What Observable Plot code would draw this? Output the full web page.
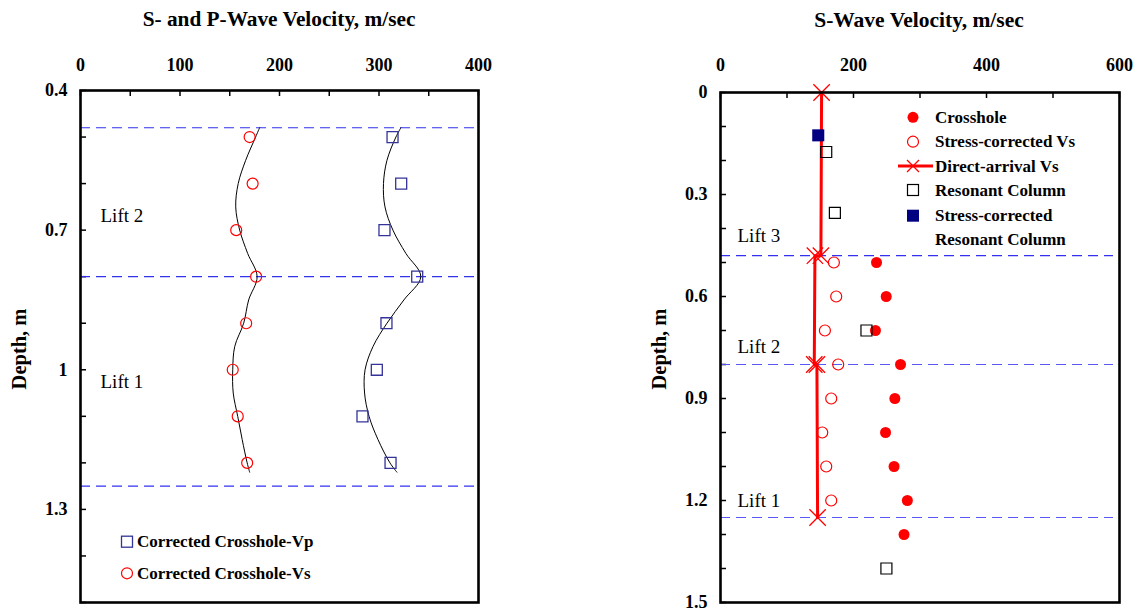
<!DOCTYPE html>
<html><head><meta charset="utf-8">
<script src="https://cdn.jsdelivr.net/npm/d3@7"></script>
<script src="https://cdn.jsdelivr.net/npm/@observablehq/plot@0.6"></script>
<style>
body{margin:0;background:#fff;}
#wrap{position:relative;width:1139px;height:612px;background:#fff;}
#wrap .panel{position:absolute;top:0;}
#overlay{position:absolute;left:0;top:0;}
</style></head><body><div id="wrap"></div>
<script>
// ---------- Left panel data ----------
const leftXMinor = [0,50,100,150,200,250,300,350,400];
const leftXLabels = [0,100,200,300,400];
const leftYMinor = [0.4,0.5,0.6,0.7,0.8,0.9,1.0,1.1,1.2,1.3,1.4,1.5];
const leftYLabels = [0.4,0.7,1.0,1.3];
const leftLayerDepths = [0.48,0.8,1.25];
const leftLiftLabels = ["Lift 2","Lift 1"];
const leftLiftDepths = [0.67,1.025];

const csDepth = [0.5,0.6,0.7,0.8,0.9,1.0,1.1,1.2];
const vsCorrected = [170,173,156.5,176.5,166.5,153,158,167.5];
const vpCorrected = [313.6,322.3,305.5,338.4,307.5,297.8,283.4,311.6];

const vsCurveDepth = [0.48,0.5,0.55,0.6,0.65,0.7,0.75,0.8,0.85,0.9,0.95,1.0,1.05,1.1,1.15,1.2,1.22];
const vsCurveVel   = [180,176,166,158.5,156,160,168,177.5,169,164,155,153,153.5,158,162.5,167.5,170];
const vpCurveDepth = [0.48,0.5,0.55,0.6,0.65,0.7,0.75,0.8,0.85,0.9,0.95,1.0,1.05,1.1,1.15,1.2,1.22];
const vpCurveVel   = [322,317,308,304.5,306,314,327,342,325,308,294,286,285.5,290,299,311,318];

// ---------- Right panel data ----------
const rightXMinor = [0,100,200,300,400,500,600];
const rightXLabels = [0,200,400,600];
const rightYMinor = [0,0.1,0.2,0.3,0.4,0.5,0.6,0.7,0.8,0.9,1.0,1.1,1.2,1.3,1.4,1.5];
const rightYLabels = [0,0.3,0.6,0.9,1.2,1.5];
const rightLayerDepths = [0.48,0.8,1.25];
const rightLiftLabels = ["Lift 3","Lift 2","Lift 1"];
const rightLiftDepths = [0.423,0.748,1.2];

const crossDepth = [0.5,0.6,0.7,0.8,0.9,1.0,1.1,1.2,1.3];
const crossVs = [234.6,249.2,233,270.7,262.2,248.2,261,281,276];
const scDepth = [0.5,0.6,0.7,0.8,0.9,1.0,1.1,1.2];
const scVs = [170.5,174,157,177,166.5,153,159,166.5];
const daDepth = [0,0.48,0.48,0.8,0.8,1.25];
const daVs = [152,151,142,141,145,146];
const rcDepth = [0.175,0.354,0.7,1.4];
const rcVs = [159,172,219.5,249.5];
const scrcDepth = [0.126];
const scrcVs = [147];

// ---------- styles ----------
const serif = '"Liberation Serif", "Times New Roman", serif';
const dashBlue = "#3232ee";
const dashBlueLight = "#5858f8";
const navy = "#333399";
const red = "#ff0000";

const pts = (ys, xs) => ys.map((d, i) => ({y: d, x: xs[i]}));

function axes(xMinor, xLabels, yMinor, yLabels, xPad, yPad, plotW, plotH) {
  return [
    Plot.tickX(xMinor, {x: d => d, stroke: "black", strokeWidth: 1.5, insetBottom: plotH - 6}),
    Plot.tickY(yMinor, {y: d => d, stroke: "black", strokeWidth: 1.5, insetRight: plotW - 6}),
    Plot.axisX(xLabels, {anchor: "top", tickSize: 0, tickPadding: xPad, label: null, tickFormat: d => String(d)}),
    Plot.axisY(yLabels, {anchor: "left", tickSize: 0, tickPadding: yPad, label: null, tickFormat: d => String(d)})
  ];
}

const baseStyle = {fontFamily: serif, fontSize: "18px", fontWeight: "bold", color: "black", background: "transparent", overflow: "visible"};

const leftPlot = Plot.plot({
  width: 560, height: 612,
  marginLeft: 80, marginRight: 82, marginTop: 90, marginBottom: 10,
  style: baseStyle,
  x: {domain: [0, 400]},
  y: {domain: [0.4, 1.5], reverse: true},
  marks: [
    ...axes(leftXMinor, leftXLabels, leftYMinor, leftYLabels, 20, 13, 398, 512),
    Plot.ruleY(leftLayerDepths, {stroke: dashBlue, strokeDasharray: "10,6", strokeWidth: 1.2}),
    Plot.line(pts(vsCurveDepth, vsCurveVel), {x: "x", y: "y", curve: "catmull-rom", stroke: "black", strokeWidth: 1}),
    Plot.line(pts(vpCurveDepth, vpCurveVel), {x: "x", y: "y", curve: "catmull-rom", stroke: "black", strokeWidth: 1}),
    Plot.dot(pts(csDepth, vsCorrected), {x: "x", y: "y", symbol: "circle", r: 5.5, stroke: red, fill: "none", strokeWidth: 1.2}),
    Plot.dot(pts(csDepth, vpCorrected), {x: "x", y: "y", symbol: "square", r: 6.2, stroke: navy, fill: "none", strokeWidth: 1.3}),
    Plot.text(leftLiftLabels, {y: (d, i) => leftLiftDepths[i], text: d => d, frameAnchor: "left", dx: 20, textAnchor: "start", fontWeight: "normal", fontSize: 19}),
    Plot.frame({stroke: "black", strokeWidth: 2.6})
  ]
});

const rightPlot = Plot.plot({
  width: 579, height: 612,
  marginLeft: 160, marginRight: 20, marginTop: 92, marginBottom: 10,
  style: baseStyle,
  x: {domain: [0, 600]},
  y: {domain: [0, 1.5], reverse: true},
  marks: [
    ...axes(rightXMinor, rightXLabels, rightYMinor, rightYLabels, 22, 13, 399, 510),
    Plot.ruleY(rightLayerDepths, {stroke: (d, i) => i === 0 ? dashBlue : dashBlueLight, strokeDasharray: "10,6", strokeWidth: 1.2, insetRight: 6}),
    Plot.line(pts(daDepth, daVs), {x: "x", y: "y", stroke: red, strokeWidth: 3}),
    Plot.dot(pts(daDepth, daVs), {x: "x", y: "y", symbol: "times", r: 7.5, stroke: red, strokeWidth: 1.3}),
    Plot.dot(pts(crossDepth, crossVs), {x: "x", y: "y", symbol: "circle", r: 5.5, fill: red}),
    Plot.dot(pts(scDepth, scVs), {x: "x", y: "y", symbol: "circle", r: 5.5, stroke: red, fill: "none", strokeWidth: 1.2}),
    Plot.dot(pts(rcDepth, rcVs), {x: "x", y: "y", symbol: "square", r: 6.2, stroke: "black", fill: "none", strokeWidth: 1.2}),
    Plot.dot(pts(scrcDepth, scrcVs), {x: "x", y: "y", symbol: "square", r: 6.8, fill: "#000080"}),
    Plot.text(rightLiftLabels, {y: (d, i) => rightLiftDepths[i], text: d => d, frameAnchor: "left", dx: 17, textAnchor: "start", fontWeight: "normal", fontSize: 19}),
    Plot.frame({stroke: "black", strokeWidth: 2.6})
  ]
});

const wrap = document.getElementById("wrap");
leftPlot.classList.add("panel"); leftPlot.style.left = "0px";
rightPlot.classList.add("panel"); rightPlot.style.left = "560px";
wrap.appendChild(leftPlot);
wrap.appendChild(rightPlot);

// ---------- overlay: titles, axis names, legends ----------
const svg = d3.select(wrap).append("svg").attr("id", "overlay")
  .attr("width", 1139).attr("height", 612)
  .style("font-family", serif);

function label(x, y, s, size, opts = {}) {
  const t = svg.append("text").attr("x", x).attr("y", y).text(s)
    .attr("font-size", size).attr("font-weight", opts.weight || "bold")
    .attr("text-anchor", opts.anchor || "start");
  if (opts.central) t.attr("dominant-baseline", "central");
  if (opts.rotate) t.attr("transform", `rotate(-90,${x},${y})`);
  return t;
}

label(279, 26, "S- and P-Wave Velocity, m/sec", 21.3, {anchor: "middle"});
label(919, 27, "S-Wave Velocity, m/sec", 21.5, {anchor: "middle"});
label(26, 349, "Depth, m", 20.5, {anchor: "middle", rotate: true});
label(666, 349, "Depth, m", 20.5, {anchor: "middle", rotate: true});

// left legend
svg.append("rect").attr("x", 121.5).attr("y", 536.2).attr("width", 11).attr("height", 11)
  .attr("fill", "none").attr("stroke", navy).attr("stroke-width", 1.3);
label(137, 541.7, "Corrected Crosshole-Vp", 17, {central: true});
svg.append("circle").attr("cx", 127).attr("cy", 573.3).attr("r", 5.5)
  .attr("fill", "none").attr("stroke", red).attr("stroke-width", 1.2);
label(137, 573.3, "Corrected Crosshole-Vs", 17, {central: true});

// right legend
const lx = 913, tx = 935;
svg.append("circle").attr("cx", lx).attr("cy", 117.3).attr("r", 5.5).attr("fill", red);
label(tx, 117.3, "Crosshole", 17, {central: true});
svg.append("circle").attr("cx", lx).attr("cy", 141.7).attr("r", 5.5).attr("fill", "none").attr("stroke", red).attr("stroke-width", 1.2);
label(tx, 141.7, "Stress-corrected Vs", 17, {central: true});
svg.append("line").attr("x1", 898).attr("x2", 933).attr("y1", 166).attr("y2", 166).attr("stroke", red).attr("stroke-width", 3);
svg.append("path").attr("d", `M${lx-6},160L${lx+6},172M${lx-6},172L${lx+6},160`).attr("stroke", red).attr("stroke-width", 1.3);
label(tx, 166, "Direct-arrival Vs", 17, {central: true});
svg.append("rect").attr("x", lx-5.5).attr("y", 184.5).attr("width", 11).attr("height", 11).attr("fill", "none").attr("stroke", "black").attr("stroke-width", 1.2);
label(tx, 190, "Resonant Column", 17, {central: true});
svg.append("rect").attr("x", lx-6).attr("y", 209.7).attr("width", 12).attr("height", 12).attr("fill", "#000080");
label(tx, 215.7, "Stress-corrected", 17, {central: true});
label(tx, 239.5, "Resonant Column", 17, {central: true});
</script>
</body></html>
